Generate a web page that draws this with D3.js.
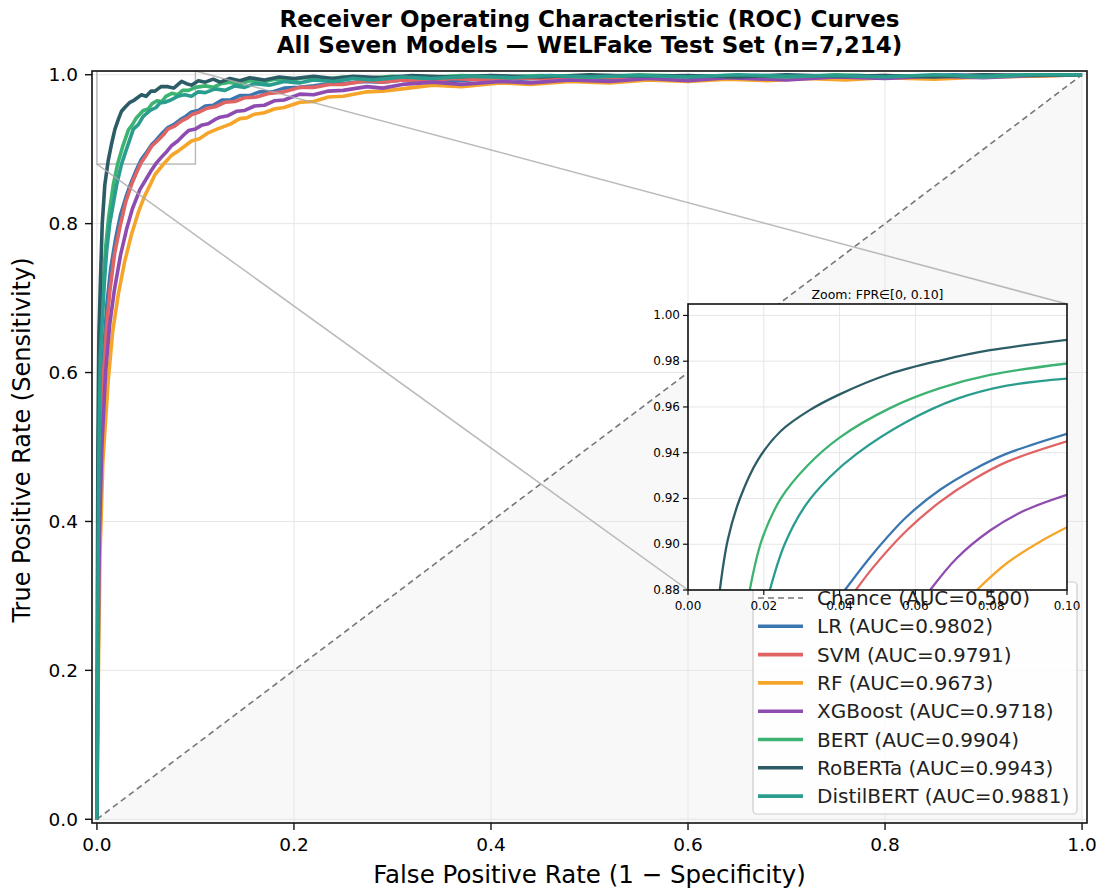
<!DOCTYPE html>
<html>
<head>
<meta charset="utf-8">
<script src="https://cdn.jsdelivr.net/npm/d3@7"></script>
<style>
body{margin:0;background:#fff;}
svg{display:block;font-family:"DejaVu Sans",sans-serif;}
</style>
</head>
<body>
<div id="chart"></div>
<script>
"use strict";

// model names and AUC values (legend order)
let models = ["LR","SVM","RF","XGBoost","BERT","RoBERTa","DistilBERT"];
let aucs = [0.9802,0.9791,0.9673,0.9718,0.9904,0.9943,0.9881];
let colors = ["#3a77b0","#e06464","#f5a62a","#8e4cb0","#3cb371","#2c5d66","#2a9d8f"];

let ticks = [0,0.2,0.4,0.6,0.8,1.0];
let insetXTicks = [0,0.02,0.04,0.06,0.08,0.10];
let insetYTicks = [0.88,0.90,0.92,0.94,0.96,0.98,1.00];
let chance = [[0,0],[1,1]];

// ROC points [fpr, tpr]
let rocLR = [[0,0],[0.001,0.25],[0.002,0.42],[0.004,0.55],[0.007,0.63],[0.01,0.69],[0.014,0.74],[0.019,0.78],[0.024,0.812],[0.03,0.838],
 [0.035,0.856],[0.04,0.872],[0.045,0.886],[0.05,0.895],[0.0555,0.906],[0.06,0.912],[0.066,0.921],[0.072,0.929],
 [0.078,0.933],[0.085,0.94],[0.09,0.944],[0.096,0.95],[0.103,0.952],[0.11,0.958],[0.118,0.959],[0.127,0.966],
 [0.135,0.966],[0.145,0.972],[0.155,0.972],[0.165,0.977],[0.178,0.977],[0.19,0.982],[0.205,0.983],[0.22,0.985],
 [0.235,0.988],[0.25,0.988],[0.27,0.991],[0.29,0.99],[0.31,0.993],[0.34,0.993],[0.37,0.992],[0.4,0.996],
 [0.43,0.994],[0.47,0.997],[0.52,0.995],[0.57,0.998],[0.62,0.996],[0.67,0.999],[0.72,0.997],[0.77,0.999],
 [0.82,0.997],[0.87,1.0],[0.92,0.998],[0.96,1.0],[1,1]];

let rocSVM = [[0,0],[0.001,0.24],[0.002,0.4],[0.0045,0.53],[0.007,0.603],[0.01,0.665],[0.0132,0.71],[0.018,0.76],[0.0233,0.795],[0.029,0.828],
 [0.035,0.852],[0.04,0.868],[0.045,0.882],[0.05,0.892],[0.0555,0.904],[0.062,0.912],[0.068,0.92],[0.072,0.927],[0.079,0.931],
 [0.086,0.938],[0.092,0.942],[0.097,0.947],[0.104,0.95],[0.112,0.955],[0.12,0.957],[0.13,0.963],[0.14,0.964],
 [0.15,0.969],[0.162,0.97],[0.175,0.975],[0.19,0.977],[0.206,0.983],[0.22,0.983],[0.236,0.987],[0.25,0.987],
 [0.274,0.992],[0.29,0.99],[0.31,0.993],[0.335,0.991],[0.36,0.995],[0.39,0.993],[0.42,0.996],[0.46,0.994],
 [0.5,0.997],[0.55,0.995],[0.6,0.998],[0.65,0.996],[0.7,0.999],[0.75,0.997],[0.8,0.999],[0.85,0.997],
 [0.9,1.0],[0.95,0.998],[1,1]];

let rocRF = [[0,0],[0.0015,0.2],[0.003,0.35],[0.006,0.48],[0.0115,0.59],[0.016,0.655],[0.0217,0.705],[0.028,0.748],[0.035,0.785],[0.042,0.815],
 [0.048,0.836],[0.054,0.852],[0.059,0.866],[0.067,0.879],[0.076,0.892],[0.083,0.898],[0.09,0.905],[0.096,0.911],[0.104,0.914],
 [0.113,0.922],[0.12,0.926],[0.128,0.93],[0.136,0.934],[0.145,0.941],[0.152,0.942],[0.16,0.947],[0.17,0.949],
 [0.18,0.954],[0.19,0.956],[0.206,0.963],[0.22,0.964],[0.235,0.97],[0.25,0.971],[0.274,0.977],[0.29,0.978],
 [0.31,0.981],[0.341,0.986],[0.37,0.984],[0.409,0.989],[0.44,0.987],[0.48,0.991],[0.52,0.989],[0.56,0.993],
 [0.6,0.991],[0.64,0.994],[0.68,0.992],[0.72,0.995],[0.76,0.993],[0.8,0.996],[0.85,0.994],[0.9,0.997],
 [0.95,0.998],[1,1]];

let rocXGB = [[0,0],[0.0012,0.22],[0.0025,0.38],[0.005,0.5],[0.0088,0.6],[0.013,0.665],[0.0176,0.71],[0.024,0.758],[0.030,0.792],[0.036,0.82],
 [0.0437,0.846],[0.05,0.86],[0.055,0.871],[0.0607,0.882],[0.066,0.89],[0.071,0.897],[0.076,0.905],[0.082,0.911],[0.088,0.919],
 [0.093,0.925],[0.1,0.927],[0.106,0.932],[0.113,0.934],[0.12,0.94],[0.125,0.943],[0.133,0.945],[0.142,0.951],
 [0.15,0.952],[0.16,0.958],[0.17,0.959],[0.18,0.965],[0.19,0.966],[0.206,0.974],[0.22,0.973],[0.235,0.978],
 [0.25,0.979],[0.274,0.984],[0.29,0.982],[0.31,0.987],[0.341,0.99],[0.37,0.987],[0.41,0.991],[0.44,0.989],
 [0.48,0.993],[0.52,0.991],[0.56,0.995],[0.6,0.992],[0.64,0.996],[0.7,0.993],[0.75,0.997],[0.8,0.995],
 [0.85,0.998],[0.9,0.996],[0.95,0.999],[1,1]];

let rocBERT = [[0,0],[0.0008,0.3],[0.0015,0.5],[0.003,0.62],[0.0064,0.72],[0.009,0.77],[0.012,0.81],[0.0166,0.852],[0.021,0.88],
 [0.026,0.903],[0.032,0.926],[0.036,0.933],[0.04,0.942],[0.047,0.952],[0.052,0.954],[0.056,0.961],[0.061,0.965],
 [0.066,0.964],[0.07,0.971],[0.076,0.975],[0.082,0.973],[0.087,0.979],[0.093,0.979],[0.1,0.983],[0.11,0.985],
 [0.118,0.983],[0.126,0.988],[0.135,0.99],[0.145,0.987],[0.155,0.992],[0.168,0.99],[0.18,0.994],[0.195,0.992],
 [0.21,0.996],[0.23,0.994],[0.25,0.997],[0.27,0.995],[0.3,0.998],[0.33,0.996],[0.37,0.999],[0.41,0.997],
 [0.45,0.999],[0.5,0.997],[0.55,1.0],[0.6,0.998],[0.65,0.999],[0.7,0.997],[0.75,1.0],[0.8,0.998],
 [0.85,0.999],[0.9,0.997],[0.95,1.0],[1,1]];

let rocRoBERTa = [[0,0],[0.0005,0.3],[0.001,0.5],[0.002,0.65],[0.0037,0.73],[0.0054,0.80],[0.008,0.852],[0.0115,0.885],
 [0.015,0.908],[0.0183,0.927],[0.022,0.941],[0.025,0.951],[0.029,0.957],[0.0335,0.963],[0.038,0.966],[0.045,0.973],
 [0.05,0.971],[0.055,0.978],[0.059,0.978],[0.065,0.984],[0.072,0.984],[0.078,0.982],[0.086,0.991],[0.091,0.988],
 [0.096,0.986],[0.103,0.992],[0.11,0.99],[0.118,0.994],[0.125,0.99],[0.135,0.995],[0.145,0.992],[0.155,0.996],
 [0.17,0.993],[0.185,0.997],[0.2,0.995],[0.22,0.998],[0.24,0.995],[0.26,0.998],[0.29,0.996],[0.32,0.999],
 [0.36,0.997],[0.4,0.999],[0.45,0.997],[0.5,1.0],[0.55,0.998],[0.6,0.999],[0.65,0.997],[0.7,1.0],
 [0.75,0.998],[0.8,0.999],[0.85,0.997],[0.9,1.0],[0.95,0.999],[1,1]];

let rocDistil = [[0,0],[0.001,0.3],[0.002,0.5],[0.0035,0.62],[0.0075,0.72],[0.01,0.765],[0.013,0.80],[0.02,0.852],[0.025,0.88],
 [0.03,0.9],[0.037,0.927],[0.042,0.933],[0.047,0.944],[0.054,0.952],[0.06,0.956],[0.064,0.962],[0.069,0.963],
 [0.075,0.966],[0.082,0.971],[0.089,0.973],[0.096,0.971],[0.103,0.977],[0.11,0.976],[0.12,0.981],[0.13,0.979],
 [0.14,0.985],[0.15,0.983],[0.16,0.988],[0.175,0.986],[0.19,0.991],[0.205,0.989],[0.22,0.993],[0.24,0.991],
 [0.26,0.995],[0.28,0.993],[0.31,0.997],[0.34,0.995],[0.38,0.998],[0.42,0.996],[0.46,0.999],[0.5,0.997],
 [0.55,0.999],[0.6,0.997],[0.65,1.0],[0.7,0.998],[0.75,0.999],[0.8,0.997],[0.85,1.0],[0.9,0.998],
 [0.95,1.0],[1,1]];

// smooth curves shown in the zoom inset
let insetLR = [[0.0414,0.88],[0.0489,0.896],[0.0577,0.912],[0.0665,0.9238],[0.0753,0.9326],[0.0841,0.9396],[0.1,0.9483]];
let insetSVM = [[0.0443,0.88],[0.0489,0.890],[0.0577,0.906],[0.0665,0.9185],[0.0753,0.9283],[0.0841,0.936],[0.1,0.945]];
let insetRF = [[0.0762,0.88],[0.0841,0.8917],[0.093,0.9012],[0.1,0.9074]];
let insetXGB = [[0.0639,0.88],[0.0709,0.8939],[0.0797,0.906],[0.0885,0.9145],[0.1,0.9216]];
let insetBERT = [[0.0163,0.88],[0.0195,0.902],[0.0245,0.92],[0.0313,0.934],[0.040,0.9466],[0.0533,0.9595],[0.0665,0.9682],[0.0797,0.974],[0.1,0.979]];
let insetRoBERTa = [[0.0084,0.88],[0.0105,0.902],[0.0137,0.92],[0.0185,0.937],[0.0245,0.9495],[0.032,0.9585],[0.040,0.9655],[0.0533,0.9745],[0.0665,0.9803],[0.0797,0.9848],[0.1,0.9893]];
let insetDistil = [[0.0216,0.88],[0.0255,0.9],[0.031,0.917],[0.0375,0.9295],[0.0445,0.9395],[0.0577,0.9535],[0.0709,0.9635],[0.0841,0.9693],[0.1,0.9724]];

let rocCurves = [rocLR,rocSVM,rocRF,rocXGB,rocBERT,rocRoBERTa,rocDistil];
let insetCurves = [insetLR,insetSVM,insetRF,insetXGB,insetBERT,insetRoBERTa,insetDistil];

// create svg
let svg = d3.select("#chart")
.append("svg")
.attr("width",1100)
.attr("height",890);

// scales
let xScale = d3.scaleLinear().domain([-0.005,1.005]).range([92,1087]);
let yScale = d3.scaleLinear().domain([-0.005,1.005]).range([823,71]);

let ix = d3.scaleLinear().domain([0,0.10]).range([688,1067]);
let iy = d3.scaleLinear().domain([0.88,1.005]).range([590,304]);

let defs = svg.append("defs");
defs.append("clipPath").attr("id","mainClip")
.append("rect").attr("x",92).attr("y",71).attr("width",995).attr("height",752);
defs.append("clipPath").attr("id","insetClip")
.append("rect").attr("x",688).attr("y",304).attr("width",379).attr("height",286);

// title
svg.append("text")
.attr("x",589.5).attr("y",27)
.attr("text-anchor","middle")
.attr("font-size",23).attr("font-weight","bold")
.text("Receiver Operating Characteristic (ROC) Curves");
svg.append("text")
.attr("x",589.5).attr("y",53)
.attr("text-anchor","middle")
.attr("font-size",23).attr("font-weight","bold")
.text("All Seven Models \u2014 WELFake Test Set (n=7,214)");

// main plot
let main = svg.append("g");
let plot = main.append("g").attr("clip-path","url(#mainClip)");

// shaded area under chance line
plot.append("path")
.datum(chance)
.attr("d", d3.area().x(d=>xScale(d[0])).y0(yScale(-0.005)).y1(d=>yScale(d[1])))
.attr("fill","#f8f8f8");

// grid
plot.selectAll(".gx").data(ticks).join("line")
.attr("x1",d=>xScale(d)).attr("x2",d=>xScale(d))
.attr("y1",71).attr("y2",823)
.attr("stroke","#e6e6e6").attr("stroke-width",1);
plot.selectAll(".gy").data(ticks).join("line")
.attr("y1",d=>yScale(d)).attr("y2",d=>yScale(d))
.attr("x1",92).attr("x2",1087)
.attr("stroke","#e6e6e6").attr("stroke-width",1);

let mainLine = d3.line().x(d=>xScale(d[0])).y(d=>yScale(d[1]));

// chance line
plot.append("path")
.datum(chance)
.attr("d",mainLine)
.attr("fill","none")
.attr("stroke","#777")
.attr("stroke-width",1.6)
.attr("stroke-dasharray","6,4");

// zoom box and connectors
plot.append("rect")
.attr("x",xScale(0)).attr("y",yScale(1.005))
.attr("width",xScale(0.10)-xScale(0))
.attr("height",yScale(0.88)-yScale(1.005))
.attr("fill","none").attr("stroke","#aaa").attr("stroke-width",1.5).attr("opacity",0.8);

main.append("line")
.attr("x1",xScale(0.10)).attr("y1",yScale(1.005))
.attr("x2",ix(0.10)).attr("y2",iy(1.005))
.attr("stroke","#aaa").attr("stroke-width",1.5).attr("opacity",0.8);
main.append("line")
.attr("x1",xScale(0)).attr("y1",yScale(0.88))
.attr("x2",ix(0)).attr("y2",iy(0.88))
.attr("stroke","#aaa").attr("stroke-width",1.5).attr("opacity",0.8);

// curves
plot.selectAll(".roc")
.data(rocCurves)
.join("path")
.attr("d",mainLine)
.attr("fill","none")
.attr("stroke",(d,i)=>colors[i])
.attr("stroke-width",3.6)
.attr("stroke-linejoin","round");

// spines
main.append("rect")
.attr("x",92).attr("y",71).attr("width",995).attr("height",752)
.attr("fill","none").attr("stroke","#111").attr("stroke-width",1.6);

// ticks
main.selectAll(".tx").data(ticks).join("line")
.attr("x1",d=>xScale(d)).attr("x2",d=>xScale(d))
.attr("y1",823).attr("y2",830).attr("stroke","#111").attr("stroke-width",1.4);
main.selectAll(".txl").data(ticks).join("text")
.attr("x",d=>xScale(d)).attr("y",851)
.attr("text-anchor","middle").attr("font-size",18.5)
.text(d=>d.toFixed(1));
main.selectAll(".ty").data(ticks).join("line")
.attr("y1",d=>yScale(d)).attr("y2",d=>yScale(d))
.attr("x1",85).attr("x2",92).attr("stroke","#111").attr("stroke-width",1.4);
main.selectAll(".tyl").data(ticks).join("text")
.attr("x",78).attr("y",d=>yScale(d)+6.5)
.attr("text-anchor","end").attr("font-size",18.5)
.text(d=>d.toFixed(1));

// axis labels
svg.append("text")
.attr("x",589.5).attr("y",883)
.attr("text-anchor","middle").attr("font-size",24.5)
.text("False Positive Rate (1 \u2212 Specificity)");
svg.append("text")
.attr("transform","rotate(-90)")
.attr("x",-440).attr("y",30)
.attr("text-anchor","middle").attr("font-size",24)
.text("True Positive Rate (Sensitivity)");

// legend
let legend = svg.append("g");
legend.append("rect")
.attr("x",753).attr("y",582).attr("width",324).attr("height",232)
.attr("rx",4)
.attr("fill","#fff").attr("fill-opacity",0.8)
.attr("stroke","#ccc").attr("stroke-width",1.2);

let legendLabels = ["Chance (AUC=0.500)"];
for(let i=0;i<models.length;i=i+1){
 legendLabels.push(models[i]+" (AUC="+aucs[i].toFixed(4)+")");
}

for(let i=0;i<legendLabels.length;i=i+1){
 let y = 598+i*28.3;
 let ln = legend.append("line")
 .attr("x1",758).attr("x2",803)
 .attr("y1",y).attr("y2",y);
 if(i===0){
  ln.attr("stroke","#777").attr("stroke-width",1.6).attr("stroke-dasharray","6,4");
 } else {
  ln.attr("stroke",colors[i-1]).attr("stroke-width",3.6);
 }
 legend.append("text")
 .attr("x",817).attr("y",y+7)
 .attr("font-size",20)
 .attr("fill","#222")
 .text(legendLabels[i]);
}

// inset
let inset = svg.append("g");
inset.append("rect")
.attr("x",688).attr("y",304).attr("width",379).attr("height",286)
.attr("fill","#fff");

inset.selectAll(".igx").data(insetXTicks).join("line")
.attr("x1",d=>ix(d)).attr("x2",d=>ix(d))
.attr("y1",304).attr("y2",590)
.attr("stroke","#e6e6e6").attr("stroke-width",1);
inset.selectAll(".igy").data(insetYTicks).join("line")
.attr("y1",d=>iy(d)).attr("y2",d=>iy(d))
.attr("x1",688).attr("x2",1067)
.attr("stroke","#e6e6e6").attr("stroke-width",1);

let insetLine = d3.line().x(d=>ix(d[0])).y(d=>iy(d[1])).curve(d3.curveCatmullRom.alpha(0.5));

inset.append("g").attr("clip-path","url(#insetClip)")
.selectAll("path")
.data(insetCurves)
.join("path")
.attr("d",insetLine)
.attr("fill","none")
.attr("stroke",(d,i)=>colors[i])
.attr("stroke-width",2.3);

inset.append("rect")
.attr("x",688).attr("y",304).attr("width",379).attr("height",286)
.attr("fill","none").attr("stroke","#111").attr("stroke-width",1.6);

inset.selectAll(".itx").data(insetXTicks).join("line")
.attr("x1",d=>ix(d)).attr("x2",d=>ix(d))
.attr("y1",590).attr("y2",595).attr("stroke","#111").attr("stroke-width",1.2);
inset.selectAll(".itxl").data(insetXTicks).join("text")
.attr("x",d=>ix(d)).attr("y",610)
.attr("text-anchor","middle").attr("font-size",12)
.text(d=>d.toFixed(2));
inset.selectAll(".ity").data(insetYTicks).join("line")
.attr("y1",d=>iy(d)).attr("y2",d=>iy(d))
.attr("x1",683).attr("x2",688).attr("stroke","#111").attr("stroke-width",1.2);
inset.selectAll(".ityl").data(insetYTicks).join("text")
.attr("x",680).attr("y",d=>iy(d)+4)
.attr("text-anchor","end").attr("font-size",12)
.text(d=>d.toFixed(2));

inset.append("text")
.attr("x",877.5).attr("y",299)
.attr("text-anchor","middle").attr("font-size",12.5)
.text("Zoom: FPR\u2208[0, 0.10]");
</script>
</body>
</html>
